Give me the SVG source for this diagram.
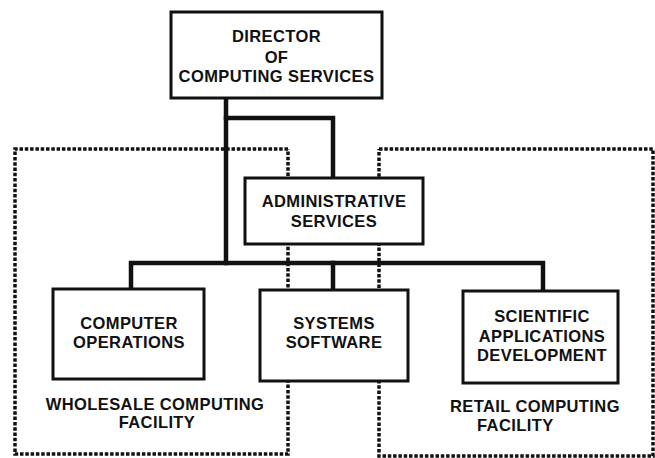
<svg xmlns="http://www.w3.org/2000/svg" width="655" height="458" viewBox="0 0 655 458">
<style>
.bg{fill:#fff}
.dot{fill:none;stroke:#111;stroke-width:3.5;stroke-dasharray:3.5 1.8}
.con{fill:none;stroke:#111;stroke-width:4.5;stroke-linejoin:miter;stroke-linecap:square}
.box{fill:#fff;stroke:#111;stroke-width:3}
text{font-family:"Liberation Sans",Arial,sans-serif;font-weight:bold;font-size:16.5px;fill:#111;letter-spacing:0.4px}
.c{text-anchor:middle}
</style>
<rect class="bg" x="0" y="0" width="655" height="458"/>
<g id="facilities">
  <g id="wholesale-facility">
    <path class="dot" d="M288,149 H15 V454 H288 V149"/>
    <text class="c" x="155" y="410">WHOLESALE COMPUTING</text>
    <text class="c" x="157" y="428">FACILITY</text>
  </g>
  <g id="retail-facility">
    <path class="dot" d="M379,149 H653 V456 H379 V149"/>
    <text x="450" y="412">RETAIL COMPUTING</text>
    <text x="477" y="431">FACILITY</text>
  </g>
</g>
<g id="connectors">
  <path class="con" d="M226,98 V263"/>
  <path class="con" d="M226,118 H333 V178"/>
  <path class="con" d="M131,289 V263 H543 V291"/>
  <path class="con" d="M333,263 V290"/>
</g>
<g id="director">
  <rect class="box" x="171" y="12" width="211" height="86"/>
  <text class="c" x="276.5" y="42">DIRECTOR</text>
  <text class="c" x="276.5" y="63">OF</text>
  <text class="c" x="276.5" y="82">COMPUTING SERVICES</text>
</g>
<g id="administrative">
  <rect class="box" x="245" y="178" width="178" height="66"/>
  <text class="c" x="334" y="207">ADMINISTRATIVE</text>
  <text class="c" x="334" y="227">SERVICES</text>
</g>
<g id="computer-operations">
  <rect class="box" x="53" y="289" width="151" height="90"/>
  <text class="c" x="129" y="329">COMPUTER</text>
  <text class="c" x="129" y="348">OPERATIONS</text>
</g>
<g id="systems-software">
  <rect class="box" x="260" y="290" width="148" height="91"/>
  <text class="c" x="334" y="329">SYSTEMS</text>
  <text class="c" x="334" y="348">SOFTWARE</text>
</g>
<g id="scientific">
  <rect class="box" x="463" y="291" width="155" height="92"/>
  <text class="c" x="542" y="322">SCIENTIFIC</text>
  <text class="c" x="542" y="342">APPLICATIONS</text>
  <text class="c" x="542" y="361">DEVELOPMENT</text>
</g>
</svg>
